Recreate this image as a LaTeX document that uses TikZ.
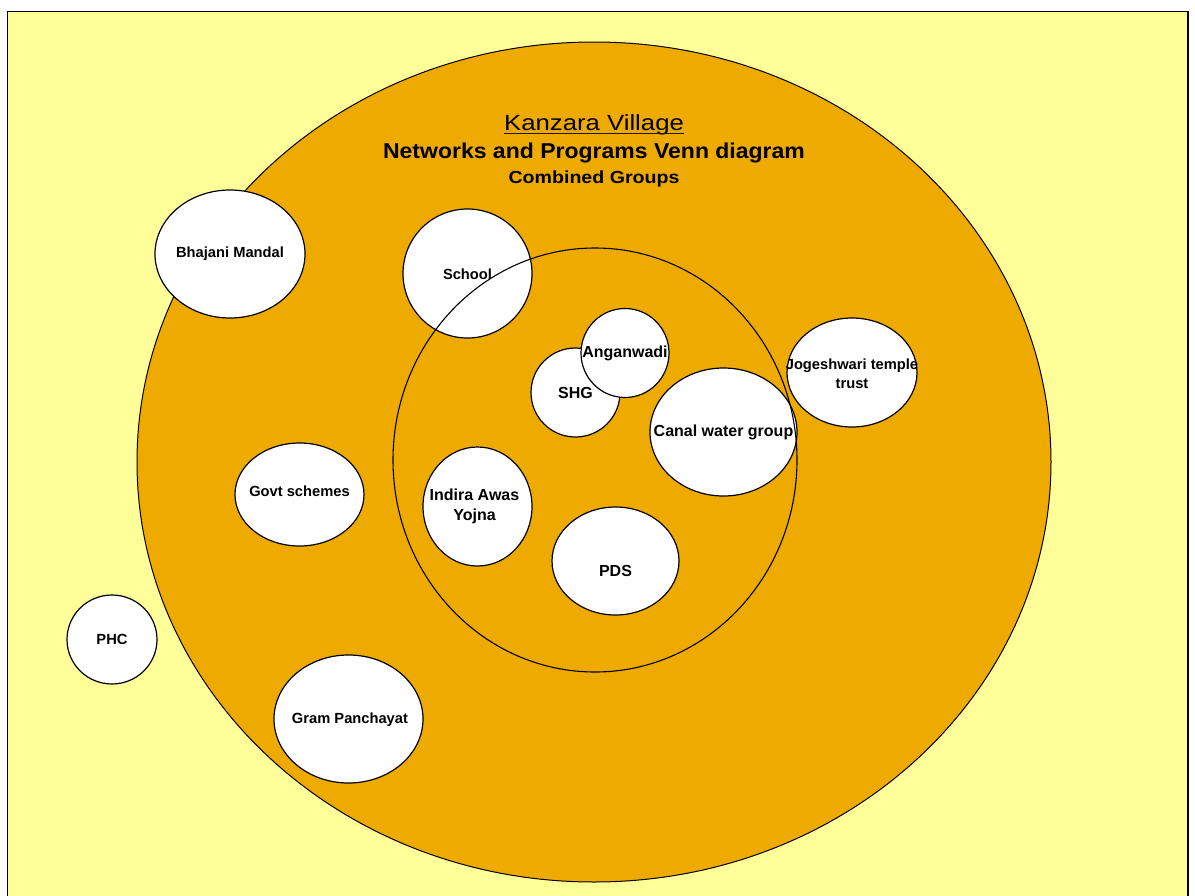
\documentclass[tikz,border=0pt]{standalone}
\usepackage{fontspec}
\setmainfont{Liberation Sans}
\usetikzlibrary{shapes.geometric}
\definecolor{paper}{RGB}{255,255,153}
\definecolor{village}{RGB}{239,170,0}
\newcommand{\stretchx}[2]{\scalebox{#1}[1]{#2}}
\tikzset{
    grp/.style = {
        draw,
        shape=ellipse,
        fill=white,
        line width=1.2pt,
        inner sep=0pt
    },
    ring/.style = {
        draw,
        shape=ellipse,
        line width=1.1pt,
        inner sep=0pt
    },
    lbl/.style = {
        font=\fontsize{14.7}{19}\selectfont\bfseries,
        align=center,
        inner sep=0pt
    },
    lblin/.style = {
        font=\fontsize{16}{20}\selectfont\bfseries,
        align=center,
        inner sep=0pt
    },
    title/.style = {
        anchor=base,
        inner sep=0pt
    },
}
\begin{document}
\begin{tikzpicture}[x=1pt, y=-1pt]
                \useasboundingbox (0,0) rectangle (1195,895);
                \clip (0,0) rectangle (1195,895);
                \fill[white] (0,0) rectangle (1195,895);
                \path[draw, fill=paper, line width=1.2pt] (7.5,11.5) rectangle (1188,920);

                \node[ring, fill=village, line width=1pt, minimum width=914pt, minimum height=840pt] (vil) at (594,462) {};

                \node[title, font=\fontsize{22}{26}\selectfont] (kv) at (594,130) {\stretchx{1.17}{Kanzara Village}};
                \path[draw, line width=1pt, color=black!85!village] ([yshift=-3pt]kv.base west) -- ([yshift=-3pt]kv.base east);
                \node[title, font=\fontsize{21.5}{26}\selectfont\bfseries] (net) at (594,158) {\stretchx{1.07}{Networks and Programs Venn diagram}};
                \node[title, font=\fontsize{17.5}{21}\selectfont\bfseries] (comb) at (594,183) {\stretchx{1.12}{Combined Groups}};

                \node[grp, minimum width=150pt, minimum height=128pt, label={[lbl]center:Bhajani Mandal}] (bhaj) at (230,254) {};
                \node[grp, minimum width=129pt, minimum height=129pt, label={[lbl, yshift=-1pt]center:School}] (school) at (467.5,273.5) {};
                \node[grp, minimum width=89pt, minimum height=89pt, label={[lblin]center:SHG}] (shg) at (575.5,392.5) {};
                \node[grp, minimum width=88pt, minimum height=89pt, label={[lblin]center:Anganwadi}] (angan) at (625,353) {};
                \node[grp, minimum width=147pt, minimum height=128pt, label={[lblin]center:Canal water group}] (canal) at (723.5,432) {};
                \node[grp, minimum width=130pt, minimum height=109pt, label={[lbl, yshift=-1pt]center:Jogeshwari temple\\trust}] (jog) at (852,372.5) {};
                \node[grp, minimum width=129pt, minimum height=103pt, label={[lbl, yshift=3pt]center:Govt schemes}] (govt) at (299.5,494.5) {};
                \node[grp, minimum width=109pt, minimum height=119pt, label={[lblin, xshift=-3pt]center:Indira Awas\\Yojna}] (iay) at (477.5,506.5) {};
                \node[grp, minimum width=127pt, minimum height=108pt, label={[lblin, yshift=-10pt]center:PDS}] (pds) at (615.5,561) {};
                \node[grp, minimum width=90pt, minimum height=89pt, label={[lbl]center:PHC}] (phc) at (112,639.5) {};
                \node[grp, minimum width=149pt, minimum height=128pt, label={[lbl, xshift=1.5pt, yshift=-1pt]center:Gram Panchayat}] (gram) at (348.5,719) {};

                \node[ring, minimum width=404pt, minimum height=424pt] (core) at (595,460) {};
            \end{tikzpicture}
\end{document}
